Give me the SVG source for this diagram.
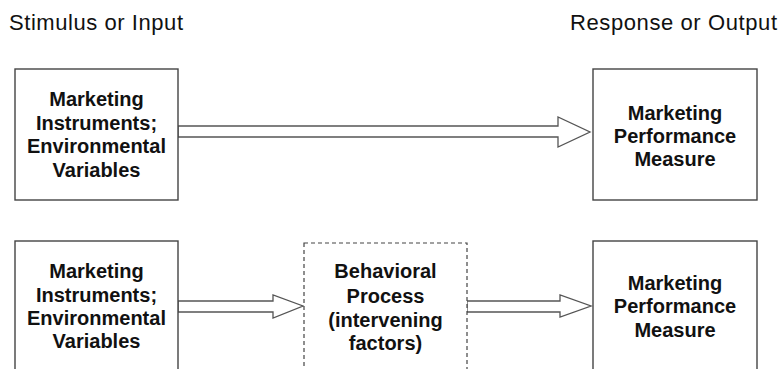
<svg xmlns="http://www.w3.org/2000/svg" width="780" height="369" viewBox="0 0 780 369">
<style>
.box{fill:#fff;stroke:#444;stroke-width:1.4}
.dash{fill:#fff;stroke:#444;stroke-width:1.2;stroke-dasharray:4 3}
.arr{fill:#fff;stroke:#555;stroke-width:1.3;stroke-linejoin:miter}
.lbl{font-family:"Liberation Sans",Arial,sans-serif;font-size:20px;font-weight:bold;fill:#111;text-anchor:middle}
.hdr{font-family:"Liberation Sans",Arial,sans-serif;font-size:22px;fill:#111}
</style>
<rect width="780" height="369" fill="#fff"/>
<text class="hdr" x="9" y="30" textLength="174">Stimulus or Input</text>
<text class="hdr" x="570" y="30" textLength="207">Response or Output</text>
<g id="connectors">
<polygon class="arr" points="178,126 558,126 558,117 590,132 558,147 558,137 178,137"/>
<polygon class="arr" points="178,301 273,301 273,295 303,306 273,318 273,312 178,312"/>
<polygon class="arr" points="467,301 560,301 560,295 591,306 560,317 560,312 467,312"/>
</g>
<g id="n1">
<rect class="box" x="15" y="69" width="163" height="131"/>
<text class="lbl" x="96.5" y="106">Marketing</text>
<text class="lbl" x="96.5" y="130">Instruments;</text>
<text class="lbl" x="96.5" y="153">Environmental</text>
<text class="lbl" x="96.5" y="177">Variables</text>
</g>
<g id="n2">
<rect class="box" x="593" y="69" width="164" height="131"/>
<text class="lbl" x="675" y="120">Marketing</text>
<text class="lbl" x="675" y="143">Performance</text>
<text class="lbl" x="675" y="166">Measure</text>
</g>
<g id="n3">
<rect class="box" x="15" y="241" width="163" height="140"/>
<text class="lbl" x="96.5" y="278">Marketing</text>
<text class="lbl" x="96.5" y="302">Instruments;</text>
<text class="lbl" x="96.5" y="325">Environmental</text>
<text class="lbl" x="96.5" y="348">Variables</text>
</g>
<g id="n4">
<rect class="dash" x="304" y="243" width="163" height="140"/>
<text class="lbl" x="385.5" y="278">Behavioral</text>
<text class="lbl" x="385.5" y="303">Process</text>
<text class="lbl" x="385.5" y="327">(intervening</text>
<text class="lbl" x="385.5" y="350">factors)</text>
</g>
<g id="n5">
<rect class="box" x="593" y="241" width="164" height="140"/>
<text class="lbl" x="675" y="290">Marketing</text>
<text class="lbl" x="675" y="313">Performance</text>
<text class="lbl" x="675" y="337">Measure</text>
</g>
</svg>
